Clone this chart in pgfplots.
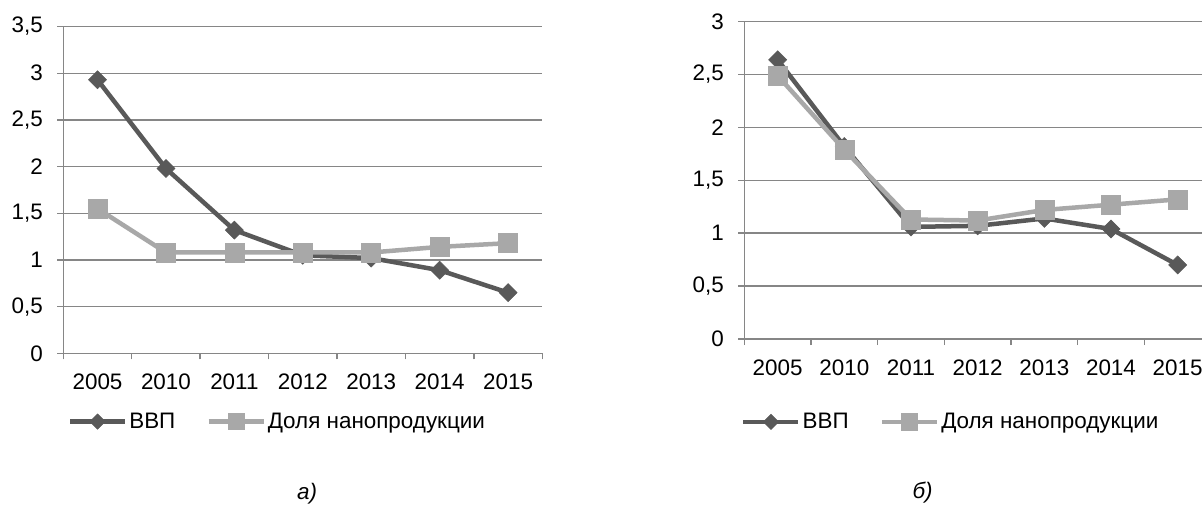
\documentclass[border=0pt]{standalone}
\usepackage{fontspec}
\setmainfont{Liberation Sans}
\usepackage{pgfplots}
\pgfplotsset{compat=1.18}

\definecolor{vvp}{HTML}{595959}
\definecolor{dolya}{HTML}{A8A8A8}
\definecolor{gridgray}{HTML}{868686}

\newcommand{\lbl}{\fontsize{22.5}{26}\selectfont}

\pgfplotsset{
  chart/.style={
    scale only axis,
    axis lines=left,
    axis line style={-, gridgray, line width=1.5bp},
    xmin=-0.5, xmax=6.5, ymin=0,
    xtick={0,...,6},
    xticklabels={2005,2010,2011,2012,2013,2014,2015},
    major x tick style={draw=none},
    minor xtick={-0.5,0.5,...,6.5},
    minor tick length=6bp,
    major tick length=6bp,
    tick align=outside,
    tick style={gridgray, line width=1.5bp},
    ymajorgrids,
    major grid style={gridgray, line width=1.5bp},
    /pgf/number format/use comma,
    /pgf/number format/assume math mode=true,
    xticklabel style={font=\lbl, text=black, yshift=-11.5bp},
    yticklabel style={font=\lbl, text=black, xshift=-11bp},
    clip=false,
    legend columns=2,
    legend style={draw=none, fill=none, font=\lbl, inner sep=0pt,
      nodes={inner xsep=2bp, inner ysep=1bp},
      /tikz/every even column/.append style={column sep=29bp}},
    legend cell align=left,
    legend image code/.code={%
      \draw[mark repeat=2, mark phase=2, ##1, every mark/.append style={scale=0.85}]
        plot coordinates {(0bp,0bp) (27.5bp,0bp) (55bp,0bp)};},
  },
  vvpline/.style={vvp, line width=4.5bp, mark=square*, mark size=6.4bp,
    mark options={solid, fill=vvp, draw=vvp, line width=0.5bp, rotate=45}},
  dolyaline/.style={dolya, line width=4.5bp, mark=square*, mark size=9.5bp,
    mark options={solid, fill=dolya, draw=dolya, line width=0.5bp}},
}

\begin{document}
\begin{tikzpicture}
\path[use as bounding box, fill=white] (0,0) rectangle (1202bp,509bp);

% left chart (a)
\begin{axis}[chart,
  at={(63.3bp,155.7bp)}, anchor=south west,
  width=479bp, height=326.7bp,
  ymax=3.5, ytick={0,0.5,...,3.5},
  legend style={at={(axis description cs:0.009,-0.209)}, anchor=west},
]
\addplot[vvpline] coordinates {(0,2.93) (1,1.98) (2,1.32) (3,1.05) (4,1.02) (5,0.89) (6,0.65)};
\addlegendentry{ВВП}
\addplot[dolyaline] coordinates {(0,1.55) (1,1.08) (2,1.08) (3,1.08) (4,1.08) (5,1.14) (6,1.18)};
\addlegendentry{Доля нанопродукции}
\node[font=\lbl\itshape] at (axis description cs:0.509,-0.431) {а)};
\end{axis}

% right chart (b)
\begin{axis}[chart,
  at={(744.3bp,170bp)}, anchor=south west,
  width=466.7bp, height=317.3bp,
  ymax=3, ytick={0,0.5,...,3},
  legend style={at={(axis description cs:-0.007,-0.261)}, anchor=west},
]
\addplot[vvpline] coordinates {(0,2.64) (1,1.82) (2,1.06) (3,1.07) (4,1.14) (5,1.04) (6,0.70)};
\addlegendentry{ВВП}
\addplot[dolyaline] coordinates {(0,2.49) (1,1.79) (2,1.13) (3,1.12) (4,1.22) (5,1.27) (6,1.32)};
\addlegendentry{Доля нанопродукции}
\node[font=\lbl\itshape] at (axis description cs:0.382,-0.485) {б)};
\end{axis}
\end{tikzpicture}
\end{document}
